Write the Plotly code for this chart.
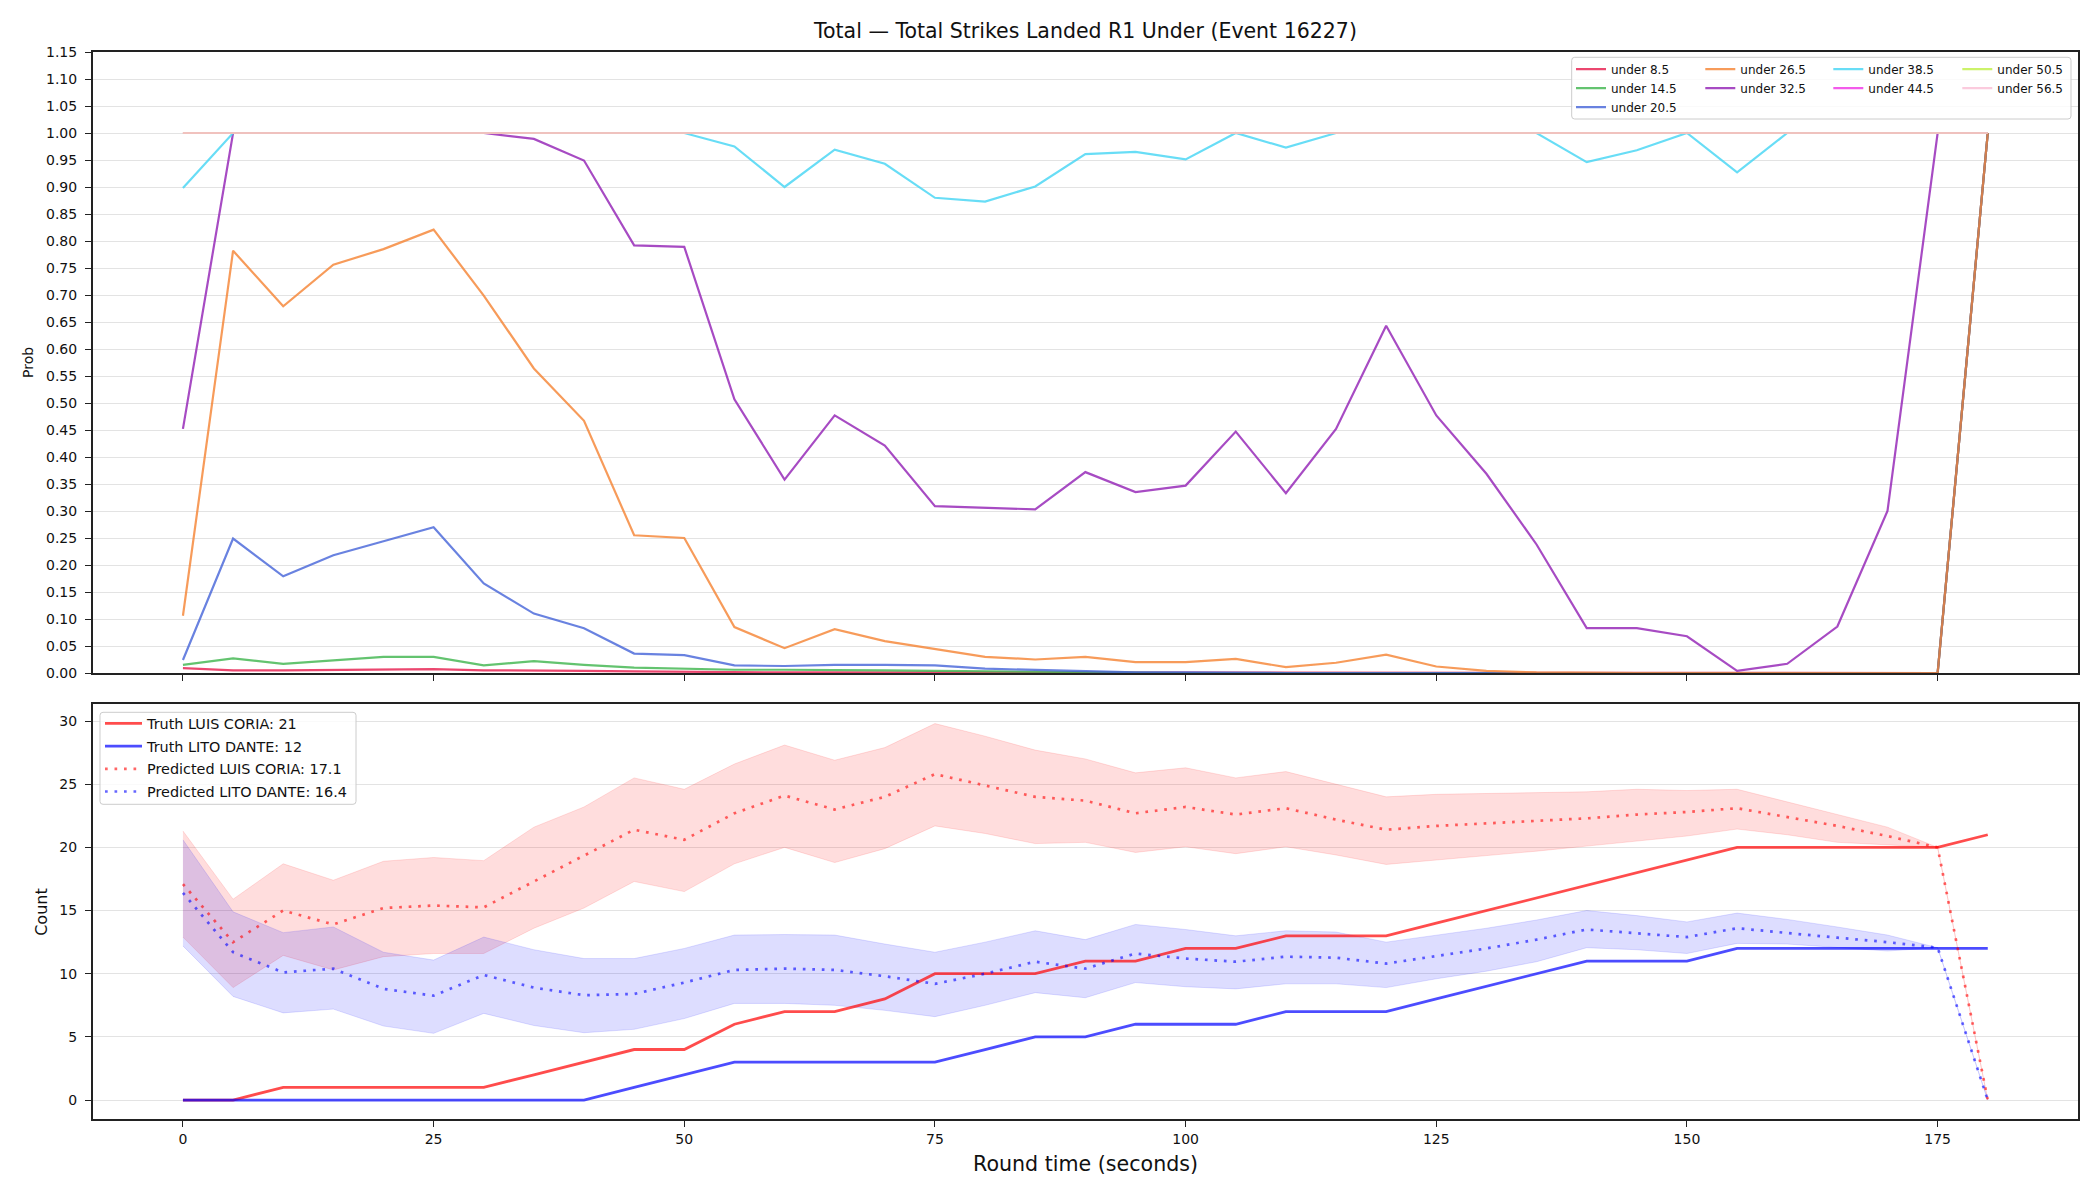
import plotly.graph_objects as go

# ---------------- data ----------------
times = [0, 5, 10, 15, 20, 25, 30, 35, 40, 45, 50, 55, 60, 65, 70, 75, 80, 85, 90,
         95, 100, 105, 110, 115, 120, 125, 130, 135, 140, 145, 150, 155, 160, 165,
         170, 175, 180]

line_labels = ["under 8.5", "under 14.5", "under 20.5", "under 26.5", "under 32.5",
               "under 38.5", "under 44.5", "under 50.5", "under 56.5"]
line_colors = ["#e6194b", "#3cb44b", "#4363d8", "#f58231", "#911eb4",
               "#42d4f4", "#f032e6", "#bfef45", "#fabed4"]

under_8_5 = [0.009, 0.005, 0.005, 0.006, 0.006, 0.007, 0.005, 0.005, 0.004, 0.003,
             0.002, 0.001, 0.001, 0.001, 0.001, 0.0, 0.0, 0.0, 0.0, 0.0, 0.0, 0.0,
             0.0, 0.0, 0.0, 0.0, 0.0, 0.0, 0.0, 0.0, 0.0, 0.0, 0.0, 0.0, 0.0, 0.0, 1.0]
under_14_5 = [0.015, 0.027, 0.017, 0.023, 0.030, 0.030, 0.014, 0.022, 0.015, 0.010,
              0.008, 0.006, 0.006, 0.006, 0.005, 0.004, 0.003, 0.002, 0.001, 0.001,
              0.0, 0.0, 0.0, 0.0, 0.0, 0.0, 0.0, 0.0, 0.0, 0.0, 0.0, 0.0, 0.0, 0.0,
              0.0, 0.0, 1.0]
under_20_5 = [0.024, 0.249, 0.179, 0.218, 0.244, 0.270, 0.166, 0.110, 0.083, 0.036,
              0.033, 0.014, 0.013, 0.015, 0.015, 0.014, 0.008, 0.006, 0.003, 0.001,
              0.001, 0.0, 0.0, 0.0, 0.0, 0.0, 0.0, 0.0, 0.0, 0.0, 0.0, 0.0, 0.0, 0.0,
              0.0, 0.0, 1.0]
under_26_5 = [0.106, 0.782, 0.679, 0.756, 0.785, 0.821, 0.699, 0.564, 0.467, 0.255,
              0.250, 0.085, 0.046, 0.081, 0.059, 0.045, 0.030, 0.025, 0.030, 0.020,
              0.020, 0.026, 0.011, 0.019, 0.034, 0.012, 0.004, 0.001, 0.0, 0.0, 0.0,
              0.0, 0.0, 0.0, 0.0, 0.0, 1.0]
under_32_5 = [0.452, 1.0, 1.0, 1.0, 1.0, 1.0, 1.0, 0.989, 0.949, 0.792, 0.789, 0.507,
              0.358, 0.477, 0.421, 0.309, 0.306, 0.303, 0.372, 0.335, 0.347, 0.447,
              0.333, 0.452, 0.643, 0.477, 0.369, 0.238, 0.083, 0.083, 0.068, 0.004,
              0.017, 0.086, 0.300, 1.0, 1.0]
under_38_5 = [0.898, 1.0, 1.0, 1.0, 1.0, 1.0, 1.0, 1.0, 1.0, 1.0, 1.0, 0.975, 0.900,
              0.969, 0.943, 0.880, 0.873, 0.901, 0.961, 0.965, 0.951, 1.0, 0.973, 1.0,
              1.0, 1.0, 1.0, 1.0, 0.946, 0.968, 1.0, 0.927, 1.0, 1.0, 1.0, 1.0, 1.0]
under_44_5 = [1.0] * 37
under_50_5 = [1.0] * 37
under_56_5 = [1.0] * 37
prob_series = [under_8_5, under_14_5, under_20_5, under_26_5, under_32_5,
               under_38_5, under_44_5, under_50_5, under_56_5]

truth_coria = [0, 0, 1, 1, 1, 1, 1, 2, 3, 4, 4, 6, 7, 7, 8, 10, 10, 10, 11, 11, 12,
               12, 13, 13, 13, 14, 15, 16, 17, 18, 19, 20, 20, 20, 20, 20, 21]
truth_dante = [0, 0, 0, 0, 0, 0, 0, 0, 0, 1, 2, 3, 3, 3, 3, 3, 4, 5, 5, 6, 6, 6, 7,
               7, 7, 8, 9, 10, 11, 11, 11, 12, 12, 12, 12, 12, 12]
pred_coria = [17.1, 12.5, 15.0, 13.9, 15.2, 15.4, 15.25, 17.3, 19.3, 21.4, 20.6, 22.7,
              24.1, 23.0, 24.0, 25.8, 24.9, 24.0, 23.7, 22.7, 23.2, 22.6, 23.1, 22.2,
              21.4, 21.7, 21.9, 22.1, 22.3, 22.6, 22.8, 23.1, 22.4, 21.7, 20.9, 20.0, 0.0]
coria_hi = [21.3, 15.9, 18.7, 17.4, 18.9, 19.2, 18.95, 21.6, 23.2, 25.5, 24.6, 26.6,
            28.1, 26.9, 27.9, 29.8, 28.8, 27.7, 27.0, 25.9, 26.3, 25.5, 26.0, 25.0,
            24.0, 24.2, 24.25, 24.3, 24.4, 24.6, 24.5, 24.6, 23.6, 22.6, 21.6, 20.0, 0.0]
coria_lo = [12.9, 8.9, 11.45, 10.3, 11.35, 11.6, 11.6, 13.6, 15.2, 17.3, 16.5, 18.7,
            20.0, 18.8, 19.9, 21.7, 21.1, 20.3, 20.4, 19.6, 20.05, 19.5, 20.05, 19.4,
            18.65, 19.0, 19.3, 19.7, 20.1, 20.5, 20.9, 21.45, 21.0, 20.4, 20.2, 20.0, 0.0]
pred_dante = [16.4, 11.7, 10.1, 10.4, 8.8, 8.26, 9.9, 8.9, 8.3, 8.4, 9.3, 10.3, 10.4,
              10.3, 9.8, 9.2, 10.0, 10.95, 10.4, 11.6, 11.2, 10.95, 11.35, 11.27, 10.8,
              11.4, 12.0, 12.7, 13.5, 13.2, 12.9, 13.6, 13.2, 12.85, 12.5, 12.06, 0.0]
dante_hi = [20.6, 14.9, 13.25, 13.7, 11.7, 11.08, 12.9, 11.9, 11.2, 11.2, 12.0, 13.06,
            13.1, 13.06, 12.35, 11.7, 12.5, 13.4, 12.7, 13.9, 13.5, 13.0, 13.4, 13.3,
            12.5, 13.06, 13.6, 14.25, 15.0, 14.6, 14.1, 14.8, 14.3, 13.7, 13.06, 12.06, 0.0]
dante_lo = [12.2, 8.2, 6.9, 7.2, 5.86, 5.28, 6.86, 5.9, 5.33, 5.6, 6.45, 7.65, 7.65,
            7.5, 7.1, 6.6, 7.5, 8.5, 8.1, 9.3, 8.97, 8.8, 9.2, 9.2, 8.9, 9.6, 10.2,
            10.95, 12.06, 11.9, 11.6, 12.4, 12.35, 12.1, 11.8, 12.06, 0.0]

x_ticks = [0, 25, 50, 75, 100, 125, 150, 175]
prob_ticks = [0.0, 0.05, 0.10, 0.15, 0.20, 0.25, 0.30, 0.35, 0.40, 0.45, 0.50, 0.55,
              0.60, 0.65, 0.70, 0.75, 0.80, 0.85, 0.90, 0.95, 1.00, 1.05, 1.10, 1.15]
prob_tick_text = ["%.2f" % v for v in prob_ticks]
count_ticks = [0, 5, 10, 15, 20, 25, 30]

title_text = "Total — Total Strikes Landed R1 Under (Event 16227)"

# ---------------- layout geometry (pixels) ----------------
W, H = 2100, 1200
X0, X1 = 92.7, 2078.0
TY0, TY1 = 52.0, 673.0
BY0, BY1 = 704.0, 1119.0
FONT = "DejaVu Sans"


def px(x):
    return x / W


def py(y):
    return 1 - y / H


def hex_rgba(h, a):
    h = h.lstrip("#")
    r, g, b = int(h[0:2], 16), int(h[2:4], 16), int(h[4:6], 16)
    return "rgba(%d,%d,%d,%.3f)" % (r, g, b, a)


def rounded_rect(x0, y0, x1, y1, r):
    rx, ry = r / W, r / H
    a, b, c, d = px(x0), px(x1), py(y1), py(y0)  # left, right, bottom, top
    return ("M%f,%f L%f,%f Q%f,%f %f,%f L%f,%f Q%f,%f %f,%f L%f,%f Q%f,%f %f,%f "
            "L%f,%f Q%f,%f %f,%f Z") % (
        a + rx, d, b - rx, d, b, d, b, d - ry, b, c + ry, b, c, b - rx, c,
        a + rx, c, a, c, a, c + ry, a, d - ry, a, d, a + rx, d)


fig = go.Figure()

# ---------------- top panel ----------------
legend_cols = ["legend2", "legend2", "legend2", "legend3", "legend3",
               "legend4", "legend4", "legend5", "legend5"]
for lab, col, vals, lg in zip(line_labels, line_colors, prob_series, legend_cols):
    fig.add_trace(go.Scatter(
        x=times, y=vals, mode="lines", name=lab,
        line=dict(color=hex_rgba(col, 0.8), width=2.2),
        xaxis="x", yaxis="y", legend=lg, hoverinfo="skip"))

# ---------------- bottom panel ----------------
RED_FILL = "rgba(255,0,0,0.135)"
BLUE_FILL = "rgba(0,0,255,0.135)"
fig.add_trace(go.Scatter(x=times, y=coria_lo, mode="lines", showlegend=False,
                         line=dict(color="rgba(255,0,0,0.12)", width=1),
                         xaxis="x2", yaxis="y2", hoverinfo="skip"))
fig.add_trace(go.Scatter(x=times, y=coria_hi, mode="lines", showlegend=False,
                         fill="tonexty", fillcolor=RED_FILL,
                         line=dict(color="rgba(255,0,0,0.12)", width=1),
                         xaxis="x2", yaxis="y2", hoverinfo="skip"))
fig.add_trace(go.Scatter(x=times, y=dante_lo, mode="lines", showlegend=False,
                         line=dict(color="rgba(0,0,255,0.12)", width=1),
                         xaxis="x2", yaxis="y2", hoverinfo="skip"))
fig.add_trace(go.Scatter(x=times, y=dante_hi, mode="lines", showlegend=False,
                         fill="tonexty", fillcolor=BLUE_FILL,
                         line=dict(color="rgba(0,0,255,0.12)", width=1),
                         xaxis="x2", yaxis="y2", hoverinfo="skip"))

fig.add_trace(go.Scatter(x=times, y=truth_coria, mode="lines",
                         name="Truth LUIS CORIA: 21", legendgroup="a",
                         line=dict(color="rgba(255,0,0,0.7)", width=2.8),
                         xaxis="x2", yaxis="y2", legend="legend"))
fig.add_trace(go.Scatter(x=times, y=truth_dante, mode="lines",
                         name="Truth LITO DANTE: 12", legendgroup="b",
                         line=dict(color="rgba(0,0,255,0.7)", width=2.8),
                         xaxis="x2", yaxis="y2", legend="legend"))
fig.add_trace(go.Scatter(x=times, y=pred_coria, mode="lines",
                         name="Predicted LUIS CORIA: 17.1", legendgroup="c",
                         line=dict(color="rgba(255,0,0,0.6)", width=2.7, dash="2.7px,6.8px"),
                         xaxis="x2", yaxis="y2", legend="legend"))
fig.add_trace(go.Scatter(x=times, y=pred_dante, mode="lines",
                         name="Predicted LITO DANTE: 16.4", legendgroup="d",
                         line=dict(color="rgba(0,0,255,0.6)", width=2.7, dash="2.7px,6.8px"),
                         xaxis="x2", yaxis="y2", legend="legend"))

# ---------------- axes ----------------
axis_common = dict(showline=True, mirror=True, linecolor="#222222", linewidth=1.5,
                   ticks="outside", ticklen=6, tickwidth=1.3, tickcolor="#222222",
                   zeroline=False, automargin=False,
                   tickfont=dict(family=FONT, size=14, color="#111111"))

fig.update_layout(
    width=W, height=H, autosize=False,
    margin=dict(l=0, r=0, t=0, b=0, pad=0, autoexpand=False),
    paper_bgcolor="white", plot_bgcolor="white",
    font=dict(family=FONT, color="#111111"),
    xaxis=dict(domain=[px(X0), px(X1)], range=[-9, 189], anchor="y",
               tickvals=x_ticks, showticklabels=False, showgrid=False, **axis_common),
    yaxis=dict(domain=[py(TY1), py(TY0)], range=[0, 1.15], anchor="x",
               tickvals=prob_ticks, ticktext=prob_tick_text, ticklabelstandoff=5,
               showgrid=True, gridcolor="#e3e3e3", gridwidth=1, **axis_common),
    xaxis2=dict(domain=[px(X0), px(X1)], range=[-9, 189], anchor="y2", matches="x",
                tickvals=x_ticks, showgrid=False, ticklabelstandoff=0, **axis_common),
    yaxis2=dict(domain=[py(BY1), py(BY0)], range=[-1.5, 31.35], anchor="x2",
                tickvals=count_ticks, showgrid=True, gridcolor="#e3e3e3", gridwidth=1,
                ticklabelstandoff=5, **axis_common),
    showlegend=True,
)

# ---------------- legends ----------------
leg_common = dict(xanchor="left", yanchor="top", bgcolor="rgba(0,0,0,0)",
                  borderwidth=0, orientation="v")
TOP_LEG_Y = 54.7
fig.update_layout(
    legend=dict(x=px(100), y=py(707.5), font=dict(family=FONT, size=14.4, color="#111111"),
                traceorder="grouped", tracegroupgap=1, itemwidth=37, **leg_common),
    legend2=dict(x=px(1571), y=py(TOP_LEG_Y), font=dict(family=FONT, size=12, color="#111111"),
                 tracegroupgap=0, **leg_common),
    legend3=dict(x=px(1700.3), y=py(TOP_LEG_Y), font=dict(family=FONT, size=12, color="#111111"),
                 tracegroupgap=0, **leg_common),
    legend4=dict(x=px(1828.3), y=py(TOP_LEG_Y), font=dict(family=FONT, size=12, color="#111111"),
                 tracegroupgap=0, **leg_common),
    legend5=dict(x=px(1957.3), y=py(TOP_LEG_Y), font=dict(family=FONT, size=12, color="#111111"),
                 tracegroupgap=0, **leg_common),
)

# legend frames
fig.add_shape(type="path", xref="paper", yref="paper", layer="above",
              path=rounded_rect(1571.7, 57.3, 2071.0, 119.0, 3),
              fillcolor="rgba(255,255,255,0.8)", line=dict(color="#cccccc", width=1))
fig.add_shape(type="path", xref="paper", yref="paper", layer="above",
              path=rounded_rect(100.0, 712.3, 356.0, 804.3, 3),
              fillcolor="rgba(255,255,255,0.8)", line=dict(color="#cccccc", width=1))

# ---------------- titles ----------------
xc = px((X0 + X1) / 2)
fig.add_annotation(text=title_text, x=xc, y=py(31), xref="paper", yref="paper",
                   showarrow=False, xanchor="center", yanchor="middle",
                   font=dict(family=FONT, size=20.5, color="#111111"))
fig.add_annotation(text="Round time (seconds)", x=xc, y=py(1164), xref="paper",
                   yref="paper", showarrow=False, xanchor="center", yanchor="middle",
                   font=dict(family=FONT, size=20.6, color="#111111"))
fig.add_annotation(text="Prob", x=px(28.5), y=py((TY0 + TY1) / 2), xref="paper",
                   yref="paper", showarrow=False, xanchor="center", yanchor="middle",
                   textangle=-90, font=dict(family=FONT, size=14, color="#111111"))
fig.add_annotation(text="Count", x=px(41.3), y=py((BY0 + BY1) / 2), xref="paper",
                   yref="paper", showarrow=False, xanchor="center", yanchor="middle",
                   textangle=-90, font=dict(family=FONT, size=16, color="#111111"))

fig.write_html("out.html")
